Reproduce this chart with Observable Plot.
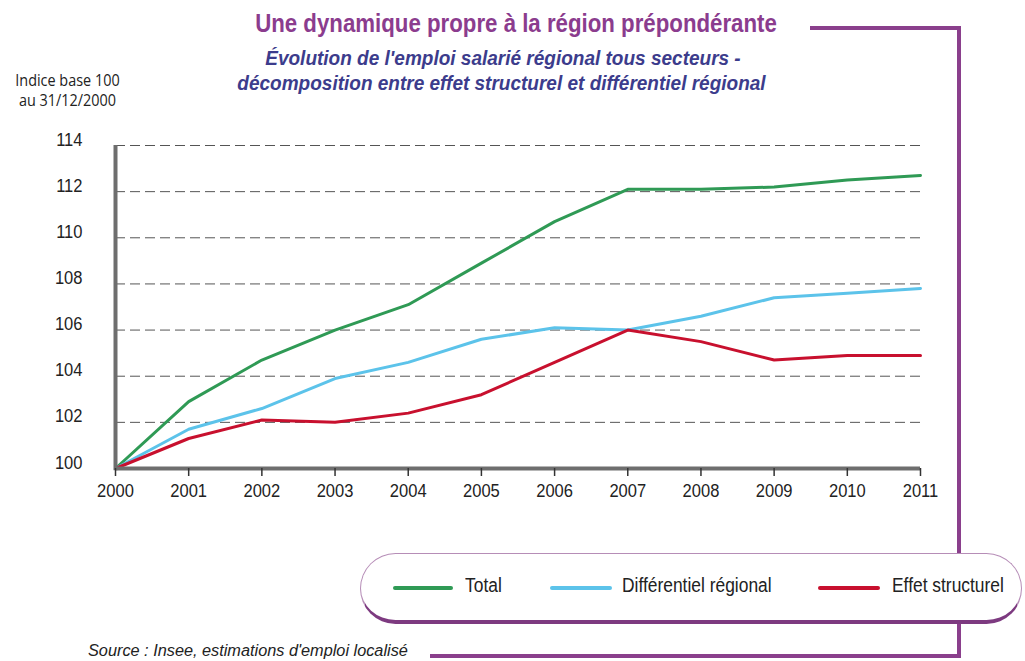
<!DOCTYPE html>
<html><head><meta charset="utf-8">
<script src="https://cdn.jsdelivr.net/npm/d3@7"></script>
<script src="https://cdn.jsdelivr.net/npm/@observablehq/plot@0.6"></script>
<style>
body{margin:0;background:#fff;}
#wrap{position:relative;width:1025px;height:661px;overflow:hidden;background:#fff;
  font-family:"Liberation Sans","Arial",sans-serif;}
#chart{position:absolute;left:0;top:0;}
.abs{position:absolute;white-space:nowrap;}
#title{left:0;width:1032px;top:9px;text-align:center;color:#8b3c8e;font-size:25px;font-weight:bold;transform:scaleX(0.89);transform-origin:516px 0;}
#sub1{left:0;width:1006px;top:47px;text-align:center;color:#3c3c8c;font-size:20px;font-weight:bold;font-style:italic;transform:scaleX(0.95);transform-origin:503px 0;}
#sub2{left:0;width:1003px;top:72px;text-align:center;color:#3c3c8c;font-size:20px;font-weight:bold;font-style:italic;transform:scaleX(0.95);transform-origin:501.5px 0;}
#ylab{left:0;width:135px;top:70px;text-align:center;color:#222;font-size:15.5px;line-height:20px;font-family:"Open Sans","Liberation Sans",sans-serif;transform:scaleX(0.93);transform-origin:67px 0;}
#source{left:88px;top:641px;color:#222;font-size:16.3px;font-style:italic;}
.frame{position:absolute;background:#8a3f8c;}
#legend{position:absolute;left:360px;top:553px;width:660px;height:66px;border:1.5px solid #b68db7;border-bottom:4px solid #7d3a80;border-radius:36px;background:#fff;box-sizing:content-box;}
.lg-sw{position:absolute;height:4px;border-radius:2px;}
.lg-tx{position:absolute;font-size:20px;color:#222;transform:scaleX(0.87);transform-origin:0 0;}
</style></head><body>
<div id="wrap">
  <div class="frame" style="left:810px;top:26px;width:151px;height:4px;"></div>
  <div class="frame" style="left:957px;top:26px;width:4px;height:632px;"></div>
  <div class="frame" style="left:430px;top:654px;width:531px;height:4px;"></div>
  <div id="chart"></div>
  <div id="title" class="abs">Une dynamique propre à la région prépondérante</div>
  <div id="sub1" class="abs">Évolution de l'emploi salarié régional tous secteurs -</div>
  <div id="sub2" class="abs">décomposition entre effet structurel et différentiel régional</div>
  <div id="ylab" class="abs">Indice base 100<br>au 31/12/2000</div>
  <div id="legend"></div>
  <div id="source" class="abs">Source : Insee, estimations d'emploi localisé</div>
</div>
<script>
const years = [2000, 2001, 2002, 2003, 2004, 2005, 2006, 2007, 2008, 2009, 2010, 2011];
const total = [100, 102.9, 104.7, 106.0, 107.1, 108.9, 110.7, 112.1, 112.1, 112.2, 112.5, 112.7];
const differentiel = [100, 101.7, 102.6, 103.9, 104.6, 105.6, 106.1, 106.0, 106.6, 107.4, 107.6, 107.8];
const effet = [100, 101.3, 102.1, 102.0, 102.4, 103.2, 104.6, 106.0, 105.5, 104.7, 104.9, 104.9];
const seriesNames = ["Total", "Différentiel régional", "Effet structurel"];
const seriesColors = ["#2f9a55", "#5cc3ea", "#c8102e"];
const yTicks = [100, 102, 104, 106, 108, 110, 112, 114];
const gridTicks = [102, 104, 106, 108, 110, 112, 114];

const seriesValues = [total, differentiel, effet];
const rows = [];
seriesNames.forEach((name, i) => {
  years.forEach((yr, j) => rows.push({series: name, year: yr, value: seriesValues[i][j]}));
});

const font = '"Liberation Sans","Arial",sans-serif';
const chart = Plot.plot({
  width: 1025,
  height: 661,
  marginLeft: 115,
  marginRight: 105,
  marginTop: 145,
  marginBottom: 193,
  style: {fontFamily: font, background: "transparent", color: "#222"},
  x: {domain: [2000, 2011], type: "linear"},
  y: {domain: [100, 114]},
  color: {domain: seriesNames, range: seriesColors},
  marks: [
    Plot.gridY(gridTicks, {stroke: "#555", strokeOpacity: 1, strokeWidth: 1, strokeDasharray: "10,5"}),
    Plot.lineY(rows, {x: "year", y: "value", z: "series", stroke: "series", strokeWidth: 3}),
    Plot.ruleY([100], {stroke: "#6e6e6e", strokeWidth: 4}),
    Plot.ruleX([2000], {y1: 99.9, y2: 114, stroke: "#6e6e6e", strokeWidth: 4}),
    Plot.axisX({ticks: years, tickFormat: d => String(d), tickSize: 8, tickPadding: 7, fontSize: 19, stroke: "#333", strokeWidth: 1.5, label: null}),
    Plot.axisY({ticks: yTicks, tickSize: 0, tickPadding: 33, fontSize: 19, dy: -6, label: null})
  ]
});
document.getElementById("chart").appendChild(chart);
// condense axis tick labels (the original uses a narrow face)
d3.select(chart).selectAll('g[aria-label$="tick label"] text').each(function () {
  const t = this.getAttribute("transform") || "";
  this.setAttribute("transform", (t + " scale(0.87,1)").trim());
});

const legend = document.getElementById("legend");
const swX = [32, 189, 457];
const swW = [60, 62, 62];
const txX = [104, 261, 531];
seriesNames.forEach((name, i) => {
  const sw = document.createElement("div");
  sw.className = "lg-sw";
  sw.style.left = swX[i] + "px";
  sw.style.width = swW[i] + "px";
  sw.style.top = "32px";
  sw.style.background = seriesColors[i];
  legend.appendChild(sw);
  const tx = document.createElement("div");
  tx.className = "lg-tx";
  tx.style.left = txX[i] + "px";
  tx.style.top = "20px";
  tx.textContent = name;
  legend.appendChild(tx);
});
</script>
</body></html>
